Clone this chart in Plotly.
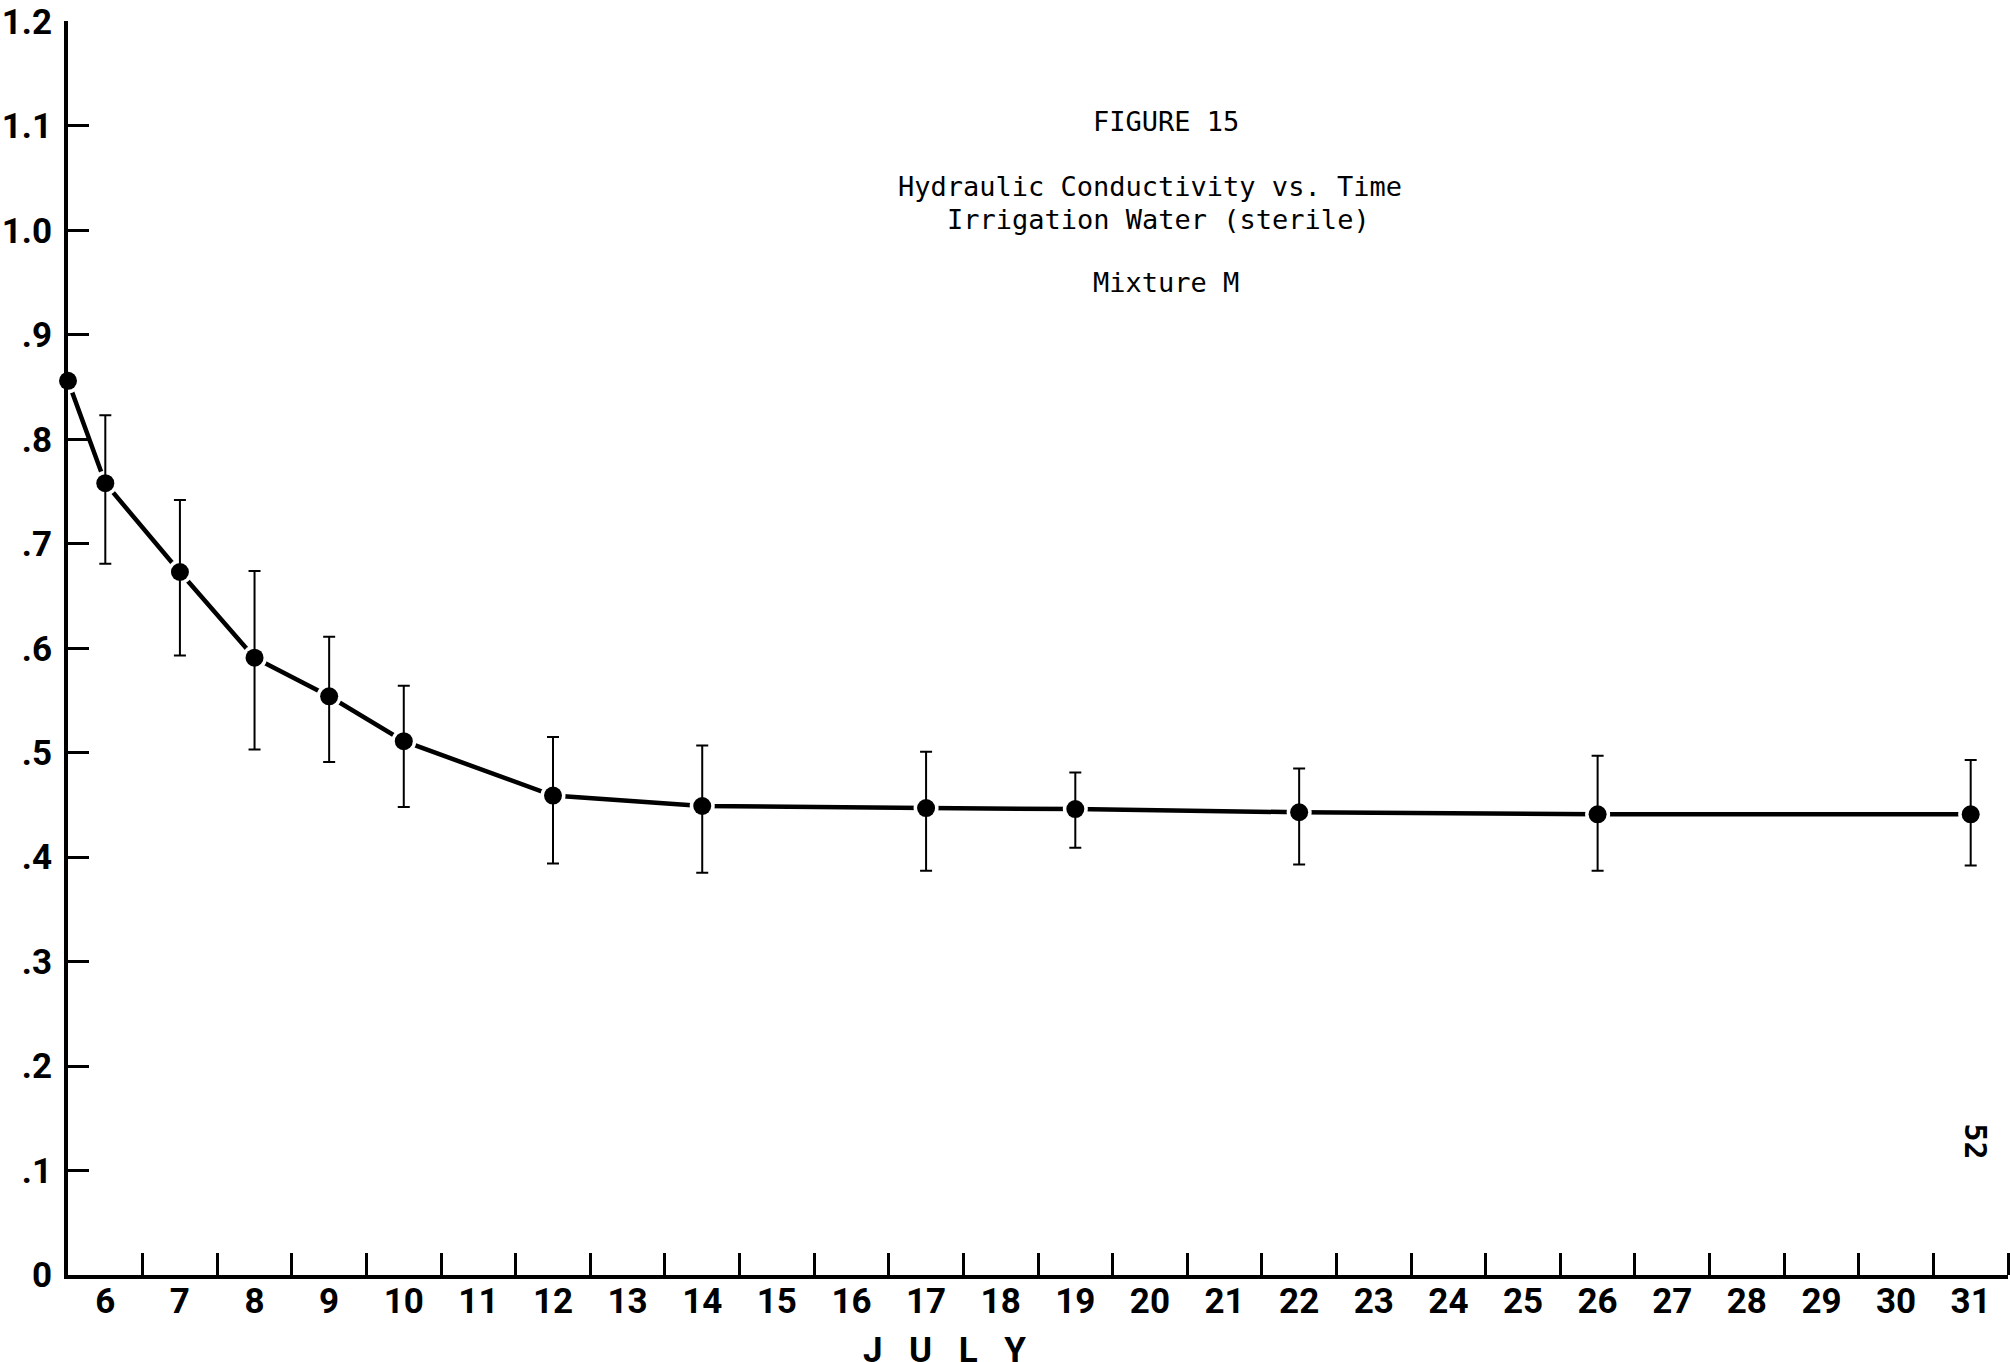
import plotly.graph_objects as go

# Sampling days in July (5.5 = start of the run, at the left edge of the 6th)
days = [5.5, 6, 7, 8, 9, 10, 12, 14, 17, 19, 22, 26, 31]
# Mean hydraulic conductivity
conductivity = [0.856, 0.758, 0.673, 0.591, 0.554, 0.511, 0.459, 0.449, 0.447, 0.446, 0.443, 0.441, 0.441]
# Upper and lower ends of the range at each sampling day
range_high = [0.856, 0.823, 0.742, 0.674, 0.611, 0.564, 0.515, 0.507, 0.501, 0.481, 0.485, 0.497, 0.493]
range_low = [0.856, 0.681, 0.593, 0.503, 0.491, 0.448, 0.394, 0.385, 0.387, 0.409, 0.393, 0.387, 0.392]

# Axis labelling
day_labels = list(range(6, 32))
y_ticks = [0, 0.1, 0.2, 0.3, 0.4, 0.5, 0.6, 0.7, 0.8, 0.9, 1.0, 1.1, 1.2]
y_tick_text = ["0", ".1", ".2", ".3", ".4", ".5", ".6", ".7", ".8", ".9", "1.0", "1.1", "1.2"]

err_plus = [h - c for h, c in zip(range_high, conductivity)]
err_minus = [c - l for c, l in zip(conductivity, range_low)]

fig = go.Figure()

# connecting line; white markers leave a small gap around each point
fig.add_trace(go.Scatter(
    x=days, y=conductivity, mode="lines+markers",
    line=dict(color="black", width=4.5),
    marker=dict(color="white", size=25),
    cliponaxis=False, hoverinfo="skip", showlegend=False,
))

# data points with range bars
fig.add_trace(go.Scatter(
    x=days, y=conductivity, mode="markers",
    marker=dict(color="black", size=18),
    error_y=dict(type="data", symmetric=False, array=err_plus, arrayminus=err_minus,
                 color="black", thickness=2, width=6),
    cliponaxis=False, showlegend=False,
))

label_font = dict(family="Roboto", size=35, color="black", weight="bold")
mono = dict(family="DejaVu Sans Mono", size=27, color="black")

fig.update_layout(
    width=2010, height=1362,
    margin=dict(l=68, r=2, t=16, b=87),
    paper_bgcolor="white", plot_bgcolor="white",
    showlegend=False,
    xaxis=dict(
        range=[5.5, 31.5], showgrid=False, zeroline=False,
        showline=True, linecolor="black", linewidth=4,
        tickmode="array", tickvals=day_labels, ticktext=[str(d) for d in day_labels],
        ticks="", tickfont=label_font, ticklabeloverflow="allow", ticklabelstandoff=-8,
        minor=dict(tickmode="array", tickvals=[d + 0.5 for d in day_labels],
                   ticks="inside", ticklen=22, tickwidth=2.5, tickcolor="black"),
    ),
    yaxis=dict(
        range=[0, 1.2005], showgrid=False, zeroline=False,
        showline=True, linecolor="black", linewidth=4,
        tickmode="array", tickvals=y_ticks, ticktext=y_tick_text,
        ticks="inside", ticklen=21, tickwidth=3, tickcolor="black",
        tickfont=label_font, ticklabelstandoff=5, ticklabeloverflow="allow",
    ),
)

titles = [
    ("FIGURE 15", 0.566, 0.9198),
    ("Hydraulic Conductivity vs. Time", 0.5577, 0.8682),
    ("Irrigation Water (sterile)", 0.5619, 0.8420),
    ("Mixture M", 0.566, 0.7911),
]
for text, xp, yp in titles:
    fig.add_annotation(text=text, x=xp, y=yp, xref="paper", yref="paper",
                       xanchor="center", yanchor="middle", showarrow=False, font=mono)

fig.add_annotation(text="J\u2002 U\u2002 L\u2002 Y", x=0.452, y=-0.042, xref="paper", yref="paper",
                   xanchor="center", yanchor="top", showarrow=False, font=label_font)

fig.add_annotation(text="52", x=0.983, y=0.1064, xref="paper", yref="paper",
                   xanchor="center", yanchor="middle", showarrow=False, textangle=90,
                   font=dict(family="DejaVu Sans Mono", size=30, color="black", weight="bold"))

fig.write_html("out.html")
